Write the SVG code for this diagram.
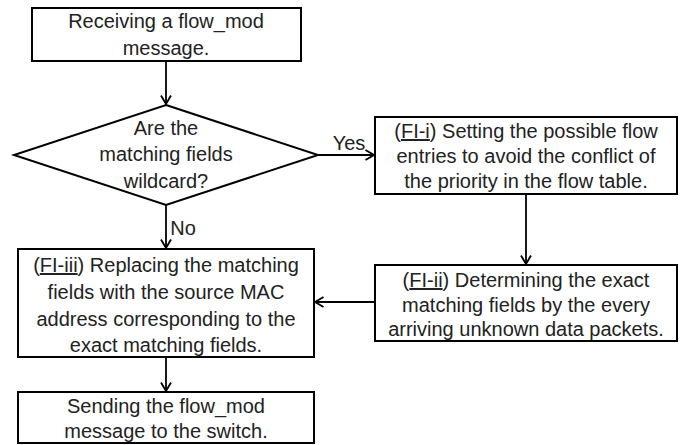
<svg xmlns="http://www.w3.org/2000/svg" width="683" height="445" viewBox="0 0 683 445">
<style>
.box{fill:#fff;stroke:#000;stroke-width:2}
.t{font-family:"Liberation Sans",Arial,sans-serif;font-size:20px;fill:#222;text-anchor:middle}
.c{fill:none;stroke:#000;stroke-width:1.8}
.u{text-decoration:underline}
</style>
<defs>
<marker id="arr" viewBox="0 0 10 12" refX="9.5" refY="6" markerWidth="10" markerHeight="12" markerUnits="userSpaceOnUse" orient="auto">
<polyline points="1,1 9.5,6 1,11" fill="none" stroke="#000" stroke-width="1.8"/>
</marker>
</defs>
<rect width="683" height="445" fill="#fff"/>
<g id="connectors">
<line class="c" x1="166" y1="61" x2="166" y2="104" marker-end="url(#arr)"/>
<line class="c" x1="318" y1="155" x2="374" y2="155" marker-end="url(#arr)"/>
<line class="c" x1="166" y1="205" x2="166" y2="248" marker-end="url(#arr)"/>
<line class="c" x1="526" y1="194" x2="526" y2="264" marker-end="url(#arr)"/>
<line class="c" x1="375" y1="302" x2="315" y2="302" marker-end="url(#arr)"/>
<line class="c" x1="166" y1="357" x2="166" y2="391" marker-end="url(#arr)"/>
<text class="t" x="349" y="150">Yes</text>
<text class="t" x="183" y="235">No</text>
</g>
<g id="n1">
<rect class="box" x="32" y="8" width="269" height="53"/>
<text class="t" x="166" y="28">Receiving a flow_mod</text>
<text class="t" x="166" y="55">message.</text>
</g>
<g id="n2">
<polygon class="box" points="166,105 318,155 166,205 14,155"/>
<text class="t" x="166" y="135">Are the</text>
<text class="t" x="166" y="161">matching fields</text>
<text class="t" x="166" y="188">wildcard?</text>
</g>
<g id="n3">
<rect class="box" x="375" y="117" width="302" height="77"/>
<text class="t" x="526" y="138">(<tspan class="u">FI-i</tspan>) Setting the possible flow</text>
<text class="t" x="526" y="163">entries to avoid the conflict of</text>
<text class="t" x="526" y="188">the priority in the flow table.</text>
</g>
<g id="n4">
<rect class="box" x="375" y="265" width="302" height="76"/>
<text class="t" x="526" y="287">(<tspan class="u">FI-ii</tspan>) Determining the exact</text>
<text class="t" x="526" y="312">matching fields by the every</text>
<text class="t" x="526" y="336">arriving unknown data packets.</text>
</g>
<g id="n5">
<rect class="box" x="18" y="249" width="296" height="108"/>
<text class="t" x="166" y="272">(<tspan class="u">FI-iii</tspan>) Replacing the matching</text>
<text class="t" x="166" y="299">fields with the source MAC</text>
<text class="t" x="166" y="326">address corresponding to the</text>
<text class="t" x="166" y="352">exact matching fields.</text>
</g>
<g id="n6">
<rect class="box" x="18" y="392" width="296" height="51"/>
<text class="t" x="166" y="413">Sending the flow_mod</text>
<text class="t" x="166" y="438">message to the switch.</text>
</g>
</svg>
